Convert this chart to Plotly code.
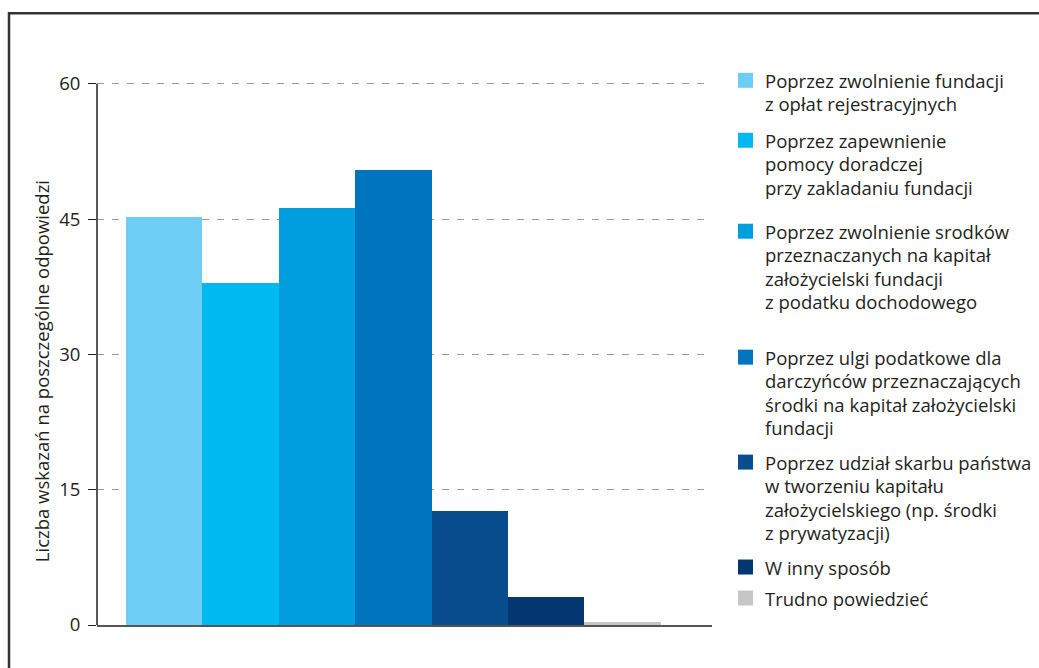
import plotly.graph_objects as go

# Survey answers: ways the state could support foundation creation
categories = [
    "Poprzez zwolnienie fundacji<br>z opłat rejestracyjnych",
    "Poprzez zapewnienie<br>pomocy doradczej<br>przy zakladaniu fundacji",
    "Poprzez zwolnienie srodków<br>przeznaczanych na kapitał<br>założycielski fundacji<br>z podatku dochodowego",
    "Poprzez ulgi podatkowe dla<br>darczyńców przeznaczających<br>środki na kapitał założycielski<br>fundacji",
    "Poprzez udział skarbu państwa<br>w tworzeniu kapitału<br>założycielskiego (np. środki<br>z prywatyzacji)",
    "W inny sposób",
    "Trudno powiedzieć",
]
values = [45.2, 37.9, 46.2, 50.4, 12.6, 3.1, 0.3]
colors = ["#6DCDF5", "#00B9F0", "#009DDF", "#0074BF", "#0A4D8F", "#04366F", "#C6C6C6"]

y_ticks = [0, 15, 30, 45, 60]
y_title = "Liczba wskazań na poszczególne odpowiedzi"

W, H = 1039, 668
Y_TOP = 60.2
ML, MR, MB = 97, 327, 43
UNIT = 541.5 / 60           # pixels per answer
PH = UNIT * Y_TOP
MT = H - MB - PH
PW = W - ML - MR

FONT = "Open Sans"
TXT = "#231F20"
FS = 18.5


def px_x(p):
    return (p - ML) / PW


def px_y(p):
    return (H - MB - p) / PH


fig = go.Figure()
for i, (name, v, c) in enumerate(zip(categories, values, colors)):
    fig.add_trace(go.Bar(
        x=[i], y=[v], name=name, marker=dict(color=c, line=dict(width=0)),
        width=1, showlegend=False,
    ))

fig.update_layout(
    width=W, height=H,
    margin=dict(l=ML, r=MR, t=MT, b=MB, pad=0),
    paper_bgcolor="white", plot_bgcolor="white",
    bargap=0,
    font=dict(family=FONT, color=TXT),
    xaxis=dict(
        range=[-0.88, 7.17], showticklabels=False, ticks="", showgrid=False,
        zeroline=False, showline=True, linecolor="#555555", linewidth=2,
    ),
    yaxis=dict(
        range=[0, Y_TOP], tickvals=y_ticks, ticks="outside", ticklen=8,
        tickcolor="#231F20", tickwidth=1, showline=False,
        showgrid=True, gridcolor="#9A9A9A", gridwidth=1,
        griddash="7px,8px", zeroline=False, ticklabelstandoff=4,
        tickfont=dict(size=FS, color=TXT, family=FONT),
    ),
)

# y-axis line stops at the top tick
fig.add_shape(
    type="line", xref="paper", yref="y", x0=0, x1=0, y0=0, y1=60,
    line=dict(color="#231F20", width=1.5),
)

# y-axis title
fig.add_annotation(
    text=y_title, xref="paper", yref="paper", x=px_x(41), y=px_y(371),
    textangle=-90, showarrow=False, xanchor="center", yanchor="middle",
    font=dict(size=FS, color=TXT, family=FONT),
)

# legend: square swatch plus wrapped label lines
first_line_px = [80, 140, 231, 357, 462, 567, 598]
line_step = 23.5
for name, c, y0 in zip(categories, colors, first_line_px):
    fig.add_shape(
        type="rect", xref="paper", yref="paper",
        x0=px_x(738), x1=px_x(753), y0=px_y(y0 - 7.5), y1=px_y(y0 + 7.5),
        fillcolor=c, line=dict(width=0),
    )
    for k, line in enumerate(name.split("<br>")):
        fig.add_annotation(
            text=line, xref="paper", yref="paper",
            x=px_x(763), y=px_y(y0 + k * line_step),
            showarrow=False, xanchor="left", yanchor="middle",
            font=dict(size=FS, color=TXT, family=FONT),
        )

# outer frame
fig.add_shape(
    type="rect", xref="paper", yref="paper",
    x0=px_x(9), x1=px_x(1100), y0=px_y(720), y1=px_y(13),
    line=dict(color="#333333", width=2.5), fillcolor="rgba(0,0,0,0)",
    layer="below",
)

fig.write_html("out.html")
